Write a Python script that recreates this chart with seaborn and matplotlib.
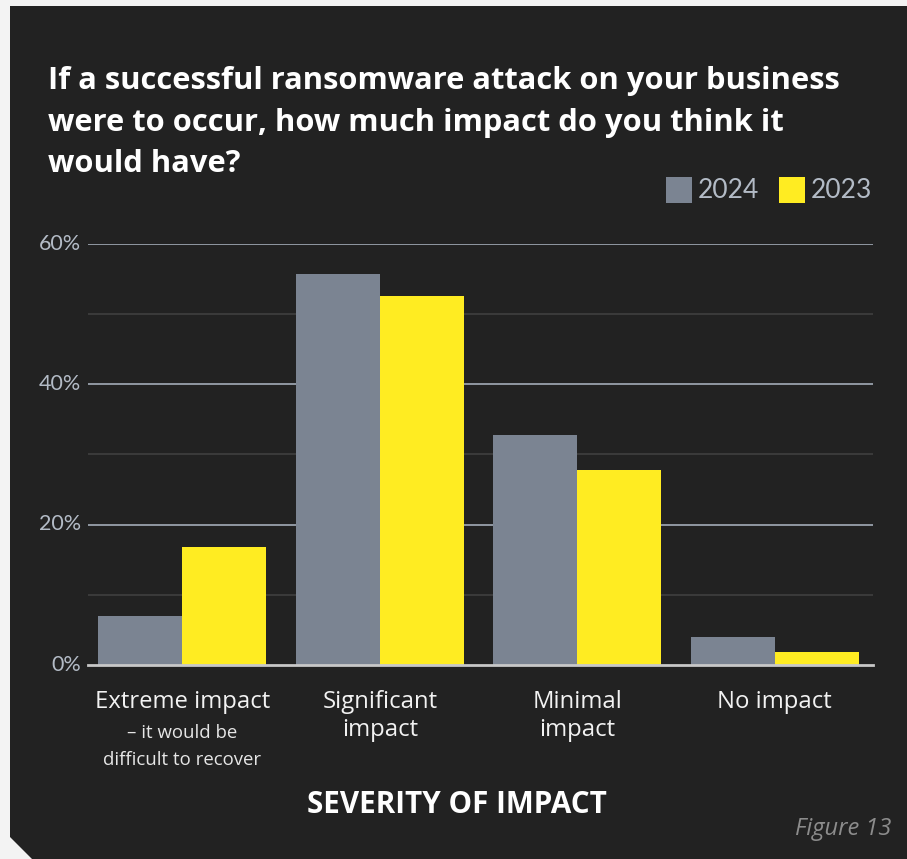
import matplotlib
matplotlib.use("Agg")
import matplotlib.pyplot as plt
from matplotlib.patches import Polygon, Rectangle
import seaborn as sns
import pandas as pd

# Survey results (% of respondents)
categories = ["Extreme impact", "Significant impact", "Minimal impact", "No impact"]
tick_main = ["Extreme impact", "Significant\nimpact", "Minimal\nimpact", "No impact"]
years = ["2024", "2023"]
values_2024 = [7, 55.6, 32.8, 4]
values_2023 = [16.8, 52.5, 27.8, 1.8]
y_ticks = [0, 20, 40, 60]
y_tick_labels = ["0%", "20%", "40%", "60%"]

BG = "#222222"
GREY = "#7b8492"
YELLOW = "#ffec22"

df = pd.DataFrame({
    "category": categories * 2,
    "year": ["2024"] * 4 + ["2023"] * 4,
    "value": values_2024 + values_2023,
})

sns.set_theme(style="dark")
W, H = 907, 859
fig = plt.figure(figsize=(W / 100, H / 100), dpi=100)
fig.patch.set_facecolor("#f3f3f3")

# dark card with a clipped bottom-left corner
card = Polygon([(10 / W, 1 - 6 / H), (1, 1 - 6 / H), (1, 0), (32 / W, 0), (10 / W, 1 - 837 / H)],
               closed=True, transform=fig.transFigure, facecolor=BG, edgecolor="none", zorder=-5)
fig.patches.append(card)

ax = fig.add_axes([88 / W, 1 - 665 / H, (873 - 88) / W, (665 - 243.5) / H])
ax.set_facecolor(BG)
ax.set_zorder(2)

sns.barplot(data=df, x="category", y="value", hue="year", hue_order=years, order=categories,
            palette={"2024": GREY, "2023": YELLOW}, width=0.85, gap=0, saturation=1,
            edgecolor="none", linewidth=0, errorbar=None, ax=ax, zorder=3)

ax.set_ylim(0, 60)
ax.set_xlim(-0.478, 3.497)
for s in ["top", "right", "left"]:
    ax.spines[s].set_visible(False)
ax.spines["bottom"].set_color("#c8c8c8")
ax.spines["bottom"].set_linewidth(2)
ax.spines["bottom"].set_zorder(4)

# gridlines: major every 20%, fainter ones in between
for v in [10, 30, 50]:
    ax.axhline(v, color="#404040", linewidth=1.2, zorder=1)
for v in [20, 40, 60]:
    ax.axhline(v, color="#a3acb8", linewidth=1.2, zorder=1)

ax.set_yticks(y_ticks)
ax.set_yticklabels(y_tick_labels, fontfamily="Lato", fontsize=15.5, color="#b3bbc6")
ax.tick_params(axis="y", length=0, pad=5)
for lbl in ax.get_yticklabels():
    lbl.set_verticalalignment("center")

ax.set_xticks(range(4))
ax.set_xticklabels([])
ax.tick_params(axis="x", length=0)
ax.set_xlabel("")
ax.set_ylabel("")
ax.legend_.remove()

# category labels under the bars
for i, t in enumerate(tick_main):
    ax.text(i, -3.5, t, transform=ax.transData, ha="center", va="top",
            fontfamily="Open Sans", fontsize=17.2, color="#f2f2f2", linespacing=1.22)
ax.text(0, -8.35, "– it would be\ndifficult to recover", ha="center", va="top",
        fontfamily="Open Sans", fontsize=13.4, color="#e6e6e6", linespacing=1.65)

fig.text(457 / W, 1 - 805 / H, "SEVERITY OF IMPACT", ha="center", va="center",
         fontfamily="Open Sans", fontweight="bold", fontsize=21.3, color="#ffffff")

fig.text(48 / W, 1 - 66 / H,
         "If a successful ransomware attack on your business\nwere to occur, how much impact do you think it\nwould have?",
         ha="left", va="top", fontfamily="Open Sans", fontweight="bold", fontsize=22.2,
         color="#ffffff", linespacing=1.5)

fig.text(891 / W, 1 - 829 / H, "Figure 13", ha="right", va="center",
         fontfamily="Open Sans", fontstyle="italic", fontsize=17, color="#8c8c8c")

# legend
for x0, col, lab in [(666, GREY, "2024"), (779, YELLOW, "2023")]:
    fig.patches.append(Rectangle((x0 / W, 1 - 203 / H), 26 / W, 26 / H,
                                 transform=fig.transFigure, facecolor=col, edgecolor="none"))
    fig.text((x0 + 32) / W, 1 - 190 / H, lab, ha="left", va="center",
             fontfamily="Lato", fontsize=19, color="#b3bbc6")

fig.savefig("out.png", dpi=100, facecolor=fig.get_facecolor())
